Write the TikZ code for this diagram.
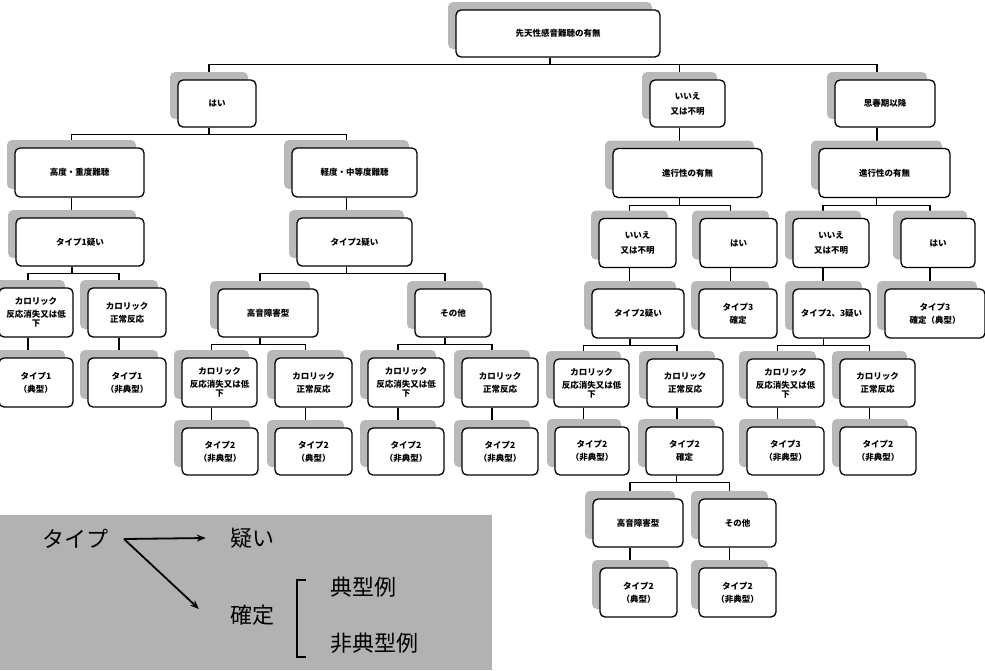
\documentclass[tikz,border=0pt]{standalone}
\usepackage{fontspec}
\setmainfont{Noto Sans CJK JP}
\usetikzlibrary{shadows,backgrounds,arrows.meta}
\tikzset{
  box/.style={draw, line width=1.3pt, rounded corners=5pt, fill=white, align=center,
    inner sep=1pt, font=\fontsize{8.5}{10}\selectfont\bfseries,
    general shadow={fill=gray!55, shadow xshift=-8pt, shadow yshift=8pt}},
  conn/.style={line width=1.2pt, black},
  legend/.style={font=\fontsize{22}{24}\selectfont, inner sep=0pt},
  legarrow/.style={line width=1.8pt, -{Stealth[length=9pt,width=7pt]}}
}
\newcommand\bx[6]{\node[box, minimum width=#4pt, minimum height=#5pt] (#1) at (#2,#3) {#6};}
\newcommand\treeconn[2]{\foreach \c in {#2} {\draw[conn] ([xshift=-8pt]#1.south) -- ++(0,7) -| ([xshift=-8pt]\c.north);}}
\newcommand\oneconn[2]{\draw[conn] ([xshift=-8pt]#1.south) -- ([xshift=-8pt]#1.south |- #2.north);}
\begin{document}
\begin{tikzpicture}[x=1pt,y=-1pt]
\path[use as bounding box] (0,0) rectangle (985,670);

% level 0
\bx{root}{558}{33.5}{204}{47}{先天性感音難聴の有無}
% level 1
\bx{hai1}{217}{103.5}{78}{47}{はい}
\bx{iie1}{687.5}{103.5}{75}{47}{いいえ\\[5pt]又は不明}
\bx{shishun}{885}{103.5}{100}{47}{思春期以降}
% level 2
\bx{koudo}{79.5}{172.5}{129}{49}{高度・重度難聴}
\bx{keido}{354.5}{172.5}{125}{49}{軽度・中等度難聴}
\bx{shinko1}{687.5}{173}{149}{49}{進行性の有無}
\bx{shinko2}{884.5}{173}{131}{49}{進行性の有無}
% level 3
\bx{tgiA}{80}{242}{128}{48}{タイプ1疑い}
\bx{tgiB}{354.5}{242}{115}{48}{タイプ2疑い}
\bx{iie2}{637.5}{243}{77}{49}{いいえ\\[5pt]又は不明}
\bx{hai2}{738.5}{243}{77}{49}{はい}
\bx{iie3}{831}{243}{76}{49}{いいえ\\[5pt]又は不明}
\bx{hai3}{938}{243}{74}{49}{はい}
% level 4
\bx{calAa}{36}{312.5}{74}{49}{カロリック\\[3pt]反応消失又は低\\[-1pt]下}
\bx{calAb}{127}{312.5}{78}{49}{カロリック\\[3pt]正常反応}
\bx{kouonA}{268}{313}{100}{48}{高音障害型}
\bx{sonotaA}{453}{313}{76}{48}{その他}
\bx{tgiC}{638}{313.5}{92}{49}{タイプ2疑い}
\bx{tkA}{738}{313.5}{78}{49}{タイプ3\\[3pt]確定}
\bx{tgiD}{831.5}{313.5}{77}{49}{タイプ2、3疑い}
\bx{tkB}{935}{313.5}{100}{49}{タイプ3\\[3pt]確定（典型）}
% level 5
\bx{tAa}{36}{382.5}{74}{49}{タイプ1\\[3pt]（典型）}
\bx{tAb}{127}{382.5}{78}{49}{タイプ1\\[3pt]（非典型）}
\bx{calBa}{219.5}{382.5}{75}{49}{カロリック\\[3pt]反応消失又は低\\[-1pt]下}
\bx{calBb}{313.5}{382.5}{77}{49}{カロリック\\[3pt]正常反応}
\bx{calCa}{406}{382.5}{76}{49}{カロリック\\[3pt]反応消失又は低\\[-1pt]下}
\bx{calCb}{500}{382.5}{76}{49}{カロリック\\[3pt]正常反応}
\bx{calDa}{591.5}{383}{75}{48}{カロリック\\[3pt]反応消失又は低\\[-1pt]下}
\bx{calDb}{685}{383}{76}{48}{カロリック\\[3pt]正常反応}
\bx{calEa}{785.5}{383}{77}{48}{カロリック\\[3pt]反応消失又は低\\[-1pt]下}
\bx{calEb}{877.5}{383}{75}{48}{カロリック\\[3pt]正常反応}
% level 6
\bx{tBa}{220}{451.5}{76}{47}{タイプ2\\[3pt]（非典型）}
\bx{tBb}{313.5}{451.5}{77}{47}{タイプ2\\[3pt]（典型）}
\bx{tBc}{406}{451.5}{76}{47}{タイプ2\\[3pt]（非典型）}
\bx{tBd}{500}{451.5}{76}{47}{タイプ2\\[3pt]（非典型）}
\bx{tBe}{592}{451}{74}{48}{タイプ2\\[3pt]（非典型）}
\bx{tkC}{684.5}{451}{77}{48}{タイプ2\\[3pt]確定}
\bx{tBf}{785.5}{451}{77}{48}{タイプ3\\[3pt]（非典型）}
\bx{tBg}{878}{451}{76}{48}{タイプ2\\[3pt]（非典型）}
% level 7
\bx{kouonB}{638}{523}{90}{48}{高音障害型}
\bx{sonotaB}{737.5}{523}{77}{48}{その他}
% level 8
\bx{tCa}{638.5}{592.5}{77}{49}{タイプ2\\[3pt]（典型）}
\bx{tCb}{737.5}{592.5}{77}{49}{タイプ2\\[3pt]（非典型）}

\begin{scope}[on background layer]
\fill[white] (0,0) rectangle (985,670);
\treeconn{root}{hai1,iie1,shishun}
\treeconn{hai1}{koudo,keido}
\oneconn{koudo}{tgiA}
\oneconn{keido}{tgiB}
\treeconn{tgiA}{calAa,calAb}
\treeconn{tgiB}{kouonA,sonotaA}
\oneconn{calAa}{tAa}
\oneconn{calAb}{tAb}
\treeconn{kouonA}{calBa,calBb}
\treeconn{sonotaA}{calCa,calCb}
\oneconn{calBa}{tBa}
\oneconn{calBb}{tBb}
\oneconn{calCa}{tBc}
\oneconn{calCb}{tBd}
\oneconn{iie1}{shinko1}
\oneconn{shishun}{shinko2}
\treeconn{shinko1}{iie2,hai2}
\treeconn{shinko2}{iie3,hai3}
\oneconn{iie2}{tgiC}
\oneconn{hai2}{tkA}
\oneconn{iie3}{tgiD}
\oneconn{hai3}{tkB}
\treeconn{tgiC}{calDa,calDb}
\treeconn{tgiD}{calEa,calEb}
\oneconn{calDa}{tBe}
\oneconn{calDb}{tkC}
\oneconn{calEa}{tBf}
\oneconn{calEb}{tBg}
\treeconn{tkC}{kouonB,sonotaB}
\oneconn{kouonB}{tCa}
\oneconn{sonotaB}{tCb}
\end{scope}

% legend
\fill[gray!60] (0,515) rectangle (492,670);
\node[legend] (ltype) at (75,539) {タイプ};
\node[legend] (lgi) at (252,538) {疑い};
\node[legend] (lkt) at (252,615) {確定};
\node[legend, anchor=west] (lten) at (330,587) {典型例};
\node[legend, anchor=west] (lhi) at (330,643) {非典型例};
\coordinate (lo) at (124,539);
\draw[legarrow] (lo) -- ([xshift=-24pt]lgi.west);
\draw[legarrow] (lo) -- (199,609);
\draw[line width=2pt] (306,580) -- (297,580) -- (297,657) -- (306,657);
\end{tikzpicture}
\end{document}
